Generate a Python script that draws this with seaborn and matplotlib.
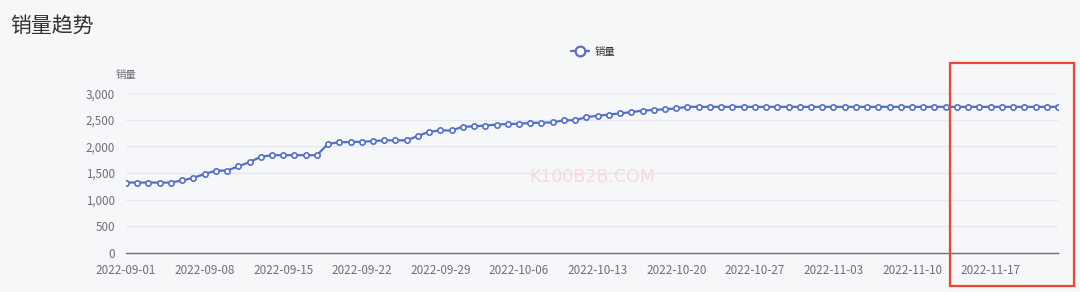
import numpy as np
import pandas as pd
import matplotlib
matplotlib.use("Agg")
import matplotlib.pyplot as plt
import seaborn as sns
from matplotlib.lines import Line2D
from matplotlib.patches import Rectangle

# ---- data ----
start_date = "2022-09-01"
n_days = 84
sales = [
    1320, 1320, 1320, 1320, 1320, 1360, 1410, 1480, 1545, 1545,
    1625, 1705, 1805, 1835, 1835, 1835, 1835, 1835, 2050, 2078,
    2083, 2088, 2100, 2115, 2115, 2115, 2198, 2277, 2300, 2300,
    2371, 2377, 2393, 2412, 2421, 2427, 2443, 2446, 2452, 2493,
    2493, 2552, 2577, 2599, 2621, 2646, 2674, 2687, 2699, 2718,
    2745, 2745, 2745, 2745, 2745, 2745, 2745, 2745, 2745, 2745,
    2745, 2745, 2745, 2745, 2745, 2745, 2745, 2745, 2745, 2745,
    2745, 2745, 2745, 2745, 2745, 2745, 2745, 2745, 2745, 2745,
    2745, 2745, 2745, 2745,
]
y_ticks = [0, 500, 1000, 1500, 2000, 2500, 3000]
title = "销量趋势"
series_name = "销量"
watermark = "K100B2B.COM"

dates = pd.date_range(start_date, periods=n_days, freq="D")
df = pd.DataFrame({"date": dates, series_name: sales})

# ---- style ----
sns.set_theme(style="white")
plt.rcParams["font.family"] = ["Noto Sans CJK SC", "DejaVu Sans"]

bg = "#f6f7f9"
line_c = "#5470c6"
axis_c = "#6e7079"
grid_c = "#e4e8f0"

W, H = 1080, 292
fig = plt.figure(figsize=(W / 100, H / 100), dpi=100, facecolor=bg)
left, right = 126 / W, 1058 / W
bottom, top = 1 - 252.7 / H, 1 - 93.3 / H
ax = fig.add_axes([left, bottom, right - left, top - bottom], facecolor=bg)

sns.lineplot(data=df, x="date", y=series_name, ax=ax, color=line_c, linewidth=1.6,
             marker="o", markersize=3.8, markerfacecolor="white",
             markeredgecolor=line_c, markeredgewidth=1.2, legend=False)

ax.set_xlim(dates[0], dates[-1])
ax.set_ylim(0, 3000)
ax.set_yticks(y_ticks)
ax.set_yticklabels([f"{v:,}" for v in y_ticks])
xt = dates[::7]
ax.set_xticks(xt)
ax.set_xticklabels([d.strftime("%Y-%m-%d") for d in xt])

ax.grid(axis="y", color=grid_c, linewidth=1)
ax.grid(axis="x", visible=False)
for s in ["top", "right", "left"]:
    ax.spines[s].set_visible(False)
ax.spines["bottom"].set_color(axis_c)
ax.spines["bottom"].set_linewidth(1)
ax.tick_params(axis="y", length=0, pad=8, labelsize=8.4, labelcolor=axis_c)
ax.tick_params(axis="x", length=5, width=1, color=axis_c, direction="out",
               pad=3, labelsize=8.4, labelcolor=axis_c)
ax.set_xlabel("")
ax.set_ylabel("")

# y-axis name
fig.text(126 / W, 1 - 75 / H, series_name, ha="center", va="center",
         fontsize=7.5, color=axis_c)

# title
fig.text(10 / W, 1 - 26 / H, title, ha="left", va="center", fontsize=15, color="#333333")

# legend
handle = Line2D([0], [0], color=line_c, linewidth=1.6, marker="o", markersize=7,
                markerfacecolor="white", markeredgecolor=line_c, markeredgewidth=1.6)
fig.legend([handle], [series_name], loc="center", bbox_to_anchor=(593 / W, 1 - 52 / H),
           frameon=False, fontsize=7.5, labelcolor="#333333", handlelength=1.8,
           handletextpad=0.5)

# watermark
fig.text(592 / W, 1 - 177 / H, watermark, ha="center", va="center", fontsize=12.5,
         color="#f8d9d9", family=["DejaVu Sans"])

# highlight box
fig.patches.append(Rectangle((950 / W, 1 - 286 / H), (1074 - 950) / W, (286 - 63) / H,
                             transform=fig.transFigure, fill=False,
                             edgecolor="#f0452f", linewidth=1.6))

fig.savefig("out.png", dpi=100, facecolor=bg)
